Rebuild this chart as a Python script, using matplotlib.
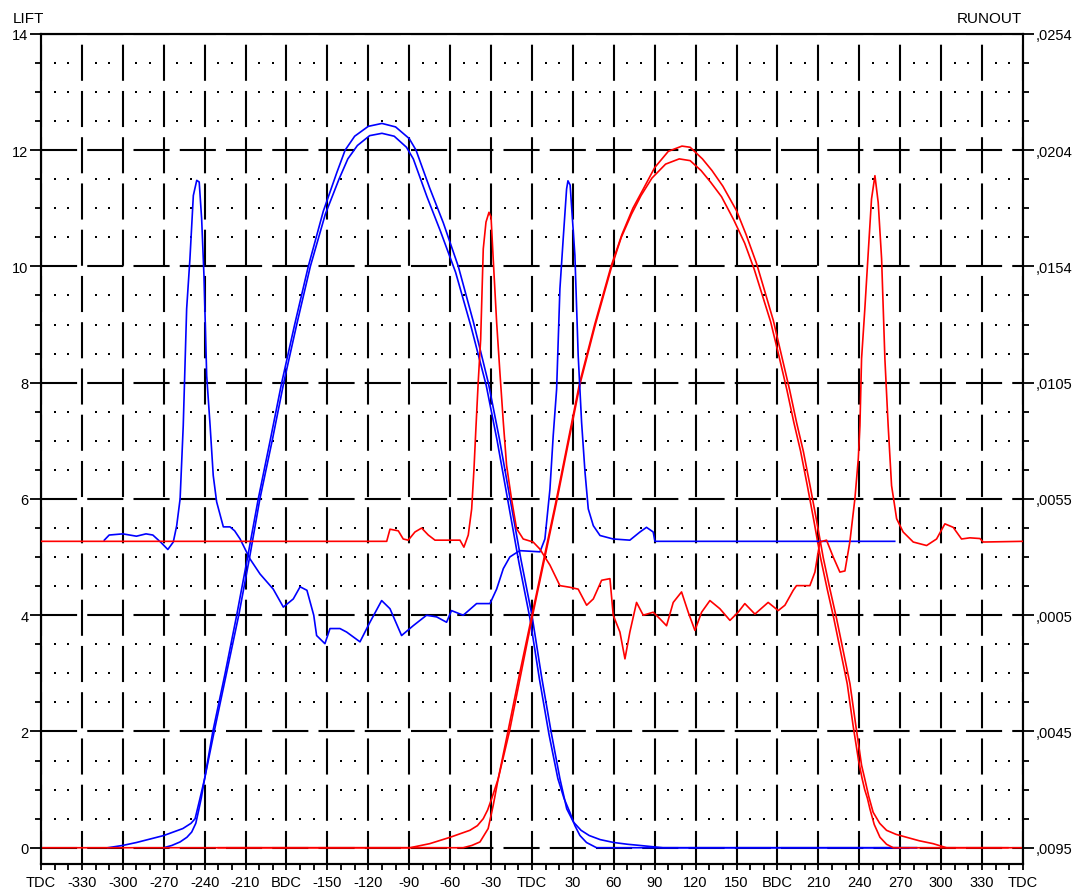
import numpy as np
import matplotlib
matplotlib.use('Agg')
import matplotlib.pyplot as plt
from matplotlib.ticker import MultipleLocator, FixedLocator

plt.rcParams['font.family'] = ['Liberation Sans', 'DejaVu Sans']
plt.rcParams['lines.scale_dashes'] = False

# crank angle ticks
x_ticks = list(range(-360, 361, 30))
x_tick_labels = ['TDC', '-330', '-300', '-270', '-240', '-210', 'BDC', '-150', '-120', '-90', '-60', '-30',
                 'TDC', '30', '60', '90', '120', '150', 'BDC', '210', '240', '270', '300', '330', 'TDC']
lift_ticks = list(range(0, 15, 2))
runout_tick_labels = [',0095', ',0045', ',0005', ',0055', ',0105', ',0154', ',0204', ',0254']

# valve lift (two traces each)
blue_lift_a_deg = [-311, -300, -290, -280, -270, -263, -256, -250, -247, -243.5, -240, -234, -225, -216.5, -208.5,
                   -200.7, -192, -183.5, -174, -164, -153, -143, -137, -130, -120, -110, -100, -90, -85, -75, -65,
                   -54, -43, -32, -24, -16, -8, 0, 7, 14, 20.5, 25.5, 30.5, 36, 42, 50, 60, 70, 79, 96, 282]
blue_lift_a = [0, 0.04, 0.09, 0.15, 0.21, 0.27, 0.33, 0.42, 0.5, 0.84, 1.19, 2.0, 3.0, 4.0, 5.0,
               6.0, 7.0, 8.0, 9.0, 10.0, 10.95, 11.62, 12.0, 12.24, 12.41, 12.46, 12.4, 12.2, 12.0, 11.35, 10.75,
               10.0, 9.05, 8.0, 7.05, 6.0, 4.95, 4.0, 2.95, 2.0, 1.19, 0.67, 0.44, 0.3, 0.21, 0.14, 0.09, 0.06, 0.04, 0, 0]

blue_lift_b_deg = [-270, -264, -258, -253, -249.5, -246.5, -244.7, -242.5, -240, -233, -224, -215, -207, -199.5,
                   -190.5, -182, -172.5, -162.5, -151.5, -141.5, -135, -128, -119, -110, -101, -92, -87, -77, -67,
                   -56, -44.5, -33.5, -25.5, -17.5, -9.5, -1.5, 5.5, 12.5, 19, 23.5, 27.8, 31.5, 35.2, 40, 47.4, 282]
blue_lift_b = [0, 0.04, 0.1, 0.18, 0.27, 0.42, 0.61, 0.85, 1.19, 2.0, 3.0, 4.0, 5.0, 6.0,
               7.0, 8.0, 9.0, 10.0, 10.9, 11.5, 11.85, 12.08, 12.25, 12.29, 12.24, 12.05, 11.85, 11.2, 10.6,
               9.9, 8.95, 7.95, 7.0, 5.95, 4.9, 3.95, 2.9, 1.95, 1.19, 0.85, 0.61, 0.38, 0.21, 0.09, 0, 0]

red_lift_a_deg = [-360, -89.5, -75, -60, -45.5, -40, -35.7, -32.5, -29.6, -24.7, -17.6, -9, 0, 9, 18, 26.5, 35,
                  46, 58, 66, 74, 81.6, 90, 100, 110, 116, 125, 132, 140, 150, 157, 164.7, 171, 177, 183, 189,
                  194, 199, 204, 208.7, 213.6, 218.5, 223.4, 228.3, 233.2, 237.5, 241.7, 244, 247, 250.2, 255,
                  260, 267, 274.7, 284, 294.2, 304, 360]
red_lift_a = [0, 0, 0.07, 0.18, 0.3, 0.38, 0.5, 0.65, 0.84, 1.19, 2.0, 3.0, 4.0, 5.0, 6.0, 7.0, 8.0,
              9.0, 10.0, 10.55, 11.0, 11.33, 11.7, 11.98, 12.07, 12.05, 11.85, 11.65, 11.38, 10.96, 10.55, 10.05,
              9.55, 9.07, 8.47, 7.87, 7.32, 6.82, 6.22, 5.63, 4.99, 4.45, 3.94, 3.38, 2.82, 2.1, 1.42, 1.19, 0.88,
              0.61, 0.42, 0.3, 0.23, 0.18, 0.12, 0.07, 0, 0]

red_lift_b_deg = [-230, -50.4, -44, -38.1, -32.1, -28.4, -24.7, -16.5, -8, 0.5, 9.5, 18.5, 27, 35.5, 46.5, 58.5,
                  65.5, 73, 80, 88, 98, 108, 116, 124, 131, 139, 148, 156, 163, 169, 175, 181, 187, 192, 197, 202,
                  206.7, 211.6, 216.5, 221.4, 226.3, 231.2, 235.5, 239.5, 242, 244, 246, 247.8, 251, 255.2, 260,
                  264.9, 349]
red_lift_b = [0, 0, 0.04, 0.1, 0.33, 0.73, 1.19, 2.0, 3.0, 4.0, 5.0, 6.0, 7.0, 8.0, 9.0, 10.0,
              10.5, 10.9, 11.22, 11.52, 11.76, 11.85, 11.82, 11.65, 11.45, 11.2, 10.8, 10.4, 9.95, 9.5, 9.05, 8.47,
              7.87, 7.32, 6.82, 6.22, 5.63, 4.99, 4.45, 3.94, 3.38, 2.82, 2.1, 1.5, 1.2, 1.0, 0.85, 0.67, 0.4,
              0.18, 0.06, 0, 0]

# runout (inch)
blue_runout_deg = [-313.6, -310, -300, -290, -283, -278, -272, -267, -263, -260.5, -258, -255.7, -253.2, -250.8,
                   -248.3, -245.8, -244, -242.2, -240.5, -238.5, -236, -233.7, -231.2, -226.3, -221.4, -218, -214,
                   -206.8, -199.4, -189.7, -182.3, -175, -170, -165, -160, -157.9, -151.8, -148.1, -140.8, -135.9,
                   -126.1, -118.8, -110.2, -104.1, -95.6, -87.1, -77.3, -69.9, -62.6, -59, -50.4, -40.6, -30.8,
                   -25.9, -21, -16.2, -12.5, -8.8, 5.9, 9.5, 13.2, 15.6, 18.1, 20.5, 22.9, 25.4, 26.4, 28, 31.5,
                   33.9, 36.4, 38.9, 41.3, 45, 49.9, 59.6, 71.8, 79.2, 84, 88.9, 90.2, 266]
blue_runout = [0.00369, 0.00391, 0.00396, 0.00386, 0.00396, 0.00391, 0.00359, 0.00329, 0.00361, 0.00431, 0.00546,
               0.00860, 0.01361, 0.01575, 0.01847, 0.01912, 0.01905, 0.01747, 0.01503, 0.01074, 0.00860, 0.00646,
               0.00533, 0.00426, 0.00426, 0.00409, 0.00374, 0.00289, 0.00224, 0.00159, 0.00082, 0.00117, 0.00169,
               0.00154, 0.00047, -0.00040, -0.00075, -0.00010, -0.00010, -0.00025, -0.00067, 0.00017, 0.00110,
               0.00075, -0.00040, 0.00002, 0.00047, 0.00040, 0.00017, 0.00067, 0.00047, 0.00097, 0.00097, 0.00159,
               0.00247, 0.00297, 0.00311, 0.00324, 0.00319, 0.00374, 0.00588, 0.00818, 0.01017, 0.01446, 0.01660,
               0.01875, 0.01910, 0.01892, 0.01590, 0.01162, 0.00875, 0.00661, 0.00503, 0.00431, 0.00389, 0.00374,
               0.00369, 0.00404, 0.00424, 0.00404, 0.00364, 0.00364]

red_runout_deg = [-360, -106.5, -104.1, -98, -94.4, -90.7, -85.8, -80.9, -76, -71.1, -52.8, -49.9, -46.7, -44.2,
                  -42.5, -41.1, -39.4, -37.6, -35.7, -33.7, -31.5, -30, -28.4, -25.9, -23.5, -21, -18.6, -15, -11.3,
                  -6.4, 0.9, 5.8, 13.2, 20.5, 27.8, 33.9, 40.1, 45, 51.1, 57.2, 59.6, 64.5, 68.2, 71.8, 76.7, 81.6,
                  88.9, 93.8, 98.7, 103.6, 109.7, 114.6, 119.5, 124.4, 130.5, 137.8, 145.2, 151.2, 156.1, 163.5,
                  173.2, 180.6, 185.5, 191.6, 194, 203.8, 207.5, 211.1, 216, 220.9, 225.8, 229.5, 233.1, 236.8,
                  239.3, 240.5, 241.7, 244.1, 246.6, 249, 251.5, 253.9, 256.4, 258.8, 261.2, 263.7, 267.4, 272.2,
                  279.6, 289.4, 296.7, 302.8, 308.9, 315, 321.1, 328.5, 330.9, 360]
red_runout = [0.00364, 0.00364, 0.00416, 0.00409, 0.00374, 0.00369, 0.00404, 0.00421, 0.00391, 0.00369, 0.00369,
              0.00339, 0.00391, 0.00503, 0.00675, 0.00848, 0.01047, 0.01231, 0.01618, 0.01733, 0.01775, 0.01755,
              0.01575, 0.01304, 0.01089, 0.00875, 0.00690, 0.00546, 0.00419, 0.00374, 0.00361, 0.00331, 0.00262,
              0.00174, 0.00167, 0.00159, 0.00090, 0.00117, 0.00197, 0.00204, 0.00047, -0.00025, -0.00140,
              -0.00025, 0.00102, 0.00047, 0.00060, 0.00032, 0.00002, 0.00102, 0.00147, 0.00060, -0.00018, 0.00060,
              0.00110, 0.00075, 0.00025, 0.00060, 0.00097, 0.00052, 0.00102, 0.00067, 0.00090, 0.00154, 0.00174,
              0.00174, 0.00232, 0.00361, 0.00369, 0.00297, 0.00232, 0.00237, 0.00361, 0.00546, 0.00718, 0.00860,
              0.01147, 0.01361, 0.01603, 0.01832, 0.01932, 0.01817, 0.01575, 0.01147, 0.00860, 0.00603, 0.00461,
              0.00404, 0.00361, 0.00346, 0.00374, 0.00439, 0.00424, 0.00374, 0.00379, 0.00376, 0.00361, 0.00364]

lift_lim = (-0.28, 14)
runout_per_lift = 0.0349 / 14
runout_at_zero = -0.0095

fig = plt.figure(figsize=(10.79, 8.95), dpi=100)
ax = fig.add_axes([0.038, 0.0335, 0.910, 0.9275])

# grid: dashed major lines + dot raster
ax.set_axisbelow(True)
ax.xaxis.grid(True, which='major', color='black', linewidth=1.5, linestyle=(2.2, (26, 7.3)))
ax.yaxis.grid(True, which='major', color='black', linewidth=1.5, linestyle=(0, (26, 7.3)))
dot_x = [d for d in range(-350, 360, 10) if d % 30 != 0]
dot_y = [v / 2 for v in range(1, 28) if v % 4 != 0]
gx, gy = np.meshgrid(dot_x, dot_y)
ax.scatter(gx.ravel(), gy.ravel(), s=2.2, marker='s', color='black', linewidths=0, zorder=1)

ax.plot(blue_lift_a_deg, blue_lift_a, color='blue', lw=1.2, zorder=3)
ax.plot(blue_lift_b_deg, blue_lift_b, color='blue', lw=1.2, zorder=3)
ax.plot(red_lift_a_deg, red_lift_a, color='red', lw=1.2, zorder=3)
ax.plot(red_lift_b_deg, red_lift_b, color='red', lw=1.2, zorder=3)

ax.set_xlim(-360, 360)
ax.set_ylim(*lift_lim)
ax.set_xticks(x_ticks)
ax.set_xticklabels(x_tick_labels)
ax.xaxis.set_minor_locator(MultipleLocator(10))
ax.set_yticks(lift_ticks)
ax.yaxis.set_minor_locator(MultipleLocator(0.5))
ax.tick_params(axis='x', which='both', direction='out', length=4, width=1.3, pad=4, labelsize=10.5)
ax.tick_params(axis='y', which='major', direction='out', length=8, width=1.3, pad=1, labelsize=10.5)
ax.tick_params(axis='y', which='minor', direction='out', length=4, width=1.3)
for s in ax.spines.values():
    s.set_linewidth(1.5)

# runout scale on the right
ax2 = ax.twinx()
ax2.set_ylim(runout_at_zero + runout_per_lift * lift_lim[0], runout_at_zero + runout_per_lift * lift_lim[1])
ax2.plot(blue_runout_deg, blue_runout, color='blue', lw=1.2, zorder=3)
ax2.plot(red_runout_deg, red_runout, color='red', lw=1.2, zorder=3)
ax2.yaxis.set_major_locator(FixedLocator([runout_at_zero + runout_per_lift * v for v in lift_ticks]))
ax2.yaxis.set_minor_locator(FixedLocator([runout_at_zero + runout_per_lift * v / 2 for v in range(0, 29)]))
ax2.set_yticklabels(runout_tick_labels)
ax2.tick_params(axis='y', which='major', direction='out', length=8, width=1.3, pad=1, labelsize=10.5)
ax2.tick_params(axis='y', which='minor', direction='out', length=4, width=1.3)
for s in ax2.spines.values():
    s.set_linewidth(1.5)

fig.text(0.0118, 0.9791, 'LIFT', fontsize=11, ha='left', va='center')
fig.text(0.947, 0.9791, 'RUNOUT', fontsize=11, ha='right', va='center')

plt.savefig('out.png', dpi=100)
